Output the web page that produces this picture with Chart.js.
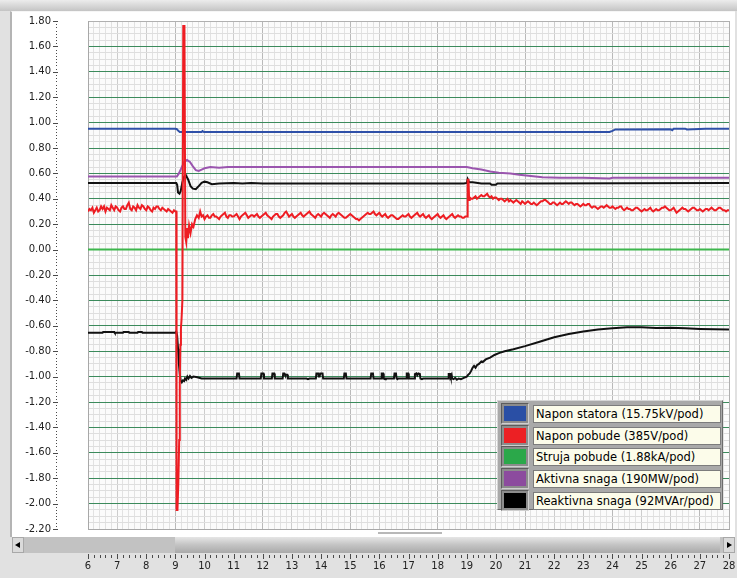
<!DOCTYPE html>
<html>
<head>
<meta charset="utf-8">
<script src="https://cdn.jsdelivr.net/npm/chart.js@4.4.1/dist/chart.umd.min.js"></script>
<style>
  body { margin: 0; background: #e1e1e1; font-family: "DejaVu Sans", sans-serif; }
  #wrap { position: relative; width: 737px; height: 578px; overflow: hidden; }
  #topbar { position: absolute; left: 0; top: 0; width: 737px; height: 11px; background: linear-gradient(#ececec, #c4c4c4); }
  #panel { position: absolute; left: 10px; top: 11px; width: 725px; height: 526px; background: #fff;
           border-left: 2px solid #b4b4b4; border-top: 1px solid #f6f6f6; box-sizing: border-box; }
  #split { position: absolute; left: 378px; top: 532px; width: 64px; height: 2px; background: #b8b8b8; }
  #chartbox { position: absolute; left: 0; top: 0; width: 737px; height: 578px; }
  #scroll { position: absolute; left: 12px; top: 537px; width: 723px; height: 16px; background: #c2c2c2; }
  #scroll .btn { position: absolute; top: 0; height: 16px; width: 12px; background: #dadada; box-sizing: border-box; border: 1px solid #a8a8a8; }
  #scroll .btnL { left: 0; }
  #scroll .btnR { right: 0; }
  #scroll .btnL:after { content: ""; position: absolute; left: 2px; top: 4px; border-right: 5px solid #000; border-top: 3px solid transparent; border-bottom: 3px solid transparent; }
  #scroll .btnR:after { content: ""; position: absolute; left: 3px; top: 4px; border-left: 5px solid #000; border-top: 3px solid transparent; border-bottom: 3px solid transparent; }
  #thumb { position: absolute; left: 163px; top: 0; width: 545px; height: 16px; background: linear-gradient(#e6e6e6, #c6c6c6 45%, #a9a9a9); }
  #legend { position: absolute; left: 497px; top: 400px; width: 226px; height: 110px; background: #a9a9a9; box-sizing: border-box;
            border-top: 1px solid #d6d6d6; border-left: 1px solid #d6d6d6; border-right: 1px solid #6c6c6c; border-bottom: 1px solid #6c6c6c; }
  .row { position: absolute; left: 3px; width: 219px; height: 18px; }
  .sw { position: absolute; left: 0; top: -2px; width: 28px; height: 21px; background: #8c8c8c; box-sizing: border-box;
        border: 1px solid; border-color: #5c5c5c #cfcfcf #cfcfcf #5c5c5c; }
  .sw i { position: absolute; left: 2px; top: 2px; right: 2px; bottom: 2px; }
  .lab { position: absolute; left: 32px; top: 0; width: 188px; height: 18px; background: #fcfcea; border: 1px solid #7c7c7c;
         box-sizing: border-box; font: 11.5px "DejaVu Sans", sans-serif; line-height: 16px; padding-left: 2px; color: #000; white-space: nowrap; }
</style>
</head>
<body>
<div id="wrap">
  <div id="topbar"></div>
  <div id="panel"></div>
  <div id="split"></div>
  <div id="chartbox"><canvas id="trendChart"></canvas></div>
  <div id="scroll"><div class="btn btnL"></div><div id="thumb"></div><div class="btn btnR"></div></div>
  <div id="legend">
    <div class="row" style="top:4px"><div class="sw"><i style="background:#2a4fa5"></i></div><div class="lab">Napon statora (15.75kV/pod)</div></div>
    <div class="row" style="top:26px"><div class="sw"><i style="background:#ec2024"></i></div><div class="lab">Napon pobude (385V/pod)</div></div>
    <div class="row" style="top:47px"><div class="sw"><i style="background:#2ba84a"></i></div><div class="lab">Struja pobude (1.88kA/pod)</div></div>
    <div class="row" style="top:69px"><div class="sw"><i style="background:#8c4b9e"></i></div><div class="lab">Aktivna snaga (190MW/pod)</div></div>
    <div class="row" style="top:91px"><div class="sw"><i style="background:#000"></i></div><div class="lab">Reaktivna snaga (92MVAr/pod)</div></div>
  </div>
</div>
<script>
// time axis (s) and y range in divisions
const xMin = 6, xMax = 28;
const yMin = -2.2, yMax = 1.8;

// Napon statora
const statorPts = [[6,0.952],[9.0,0.952],[9.05,0.948],[9.1,0.935],[9.15,0.926],[9.9,0.926],[9.93,0.933],[9.98,0.926],
  [23.9,0.926],[24.0,0.935],[24.1,0.946],[26.0,0.948],[26.05,0.94],[26.1,0.952],[26.5,0.952],[26.55,0.946],[27.2,0.952],[28,0.952]];

// Napon pobude (noisy)
const pobudaPts = [
  [6.0,0.30],[6.05,0.32],[6.1,0.31],[6.15,0.33],[6.2,0.29],[6.25,0.31],[6.3,0.33],[6.35,0.30],[6.4,0.31],[6.45,0.34],
  [6.5,0.32],[6.55,0.34],[6.6,0.30],[6.65,0.33],[6.7,0.32],[6.75,0.31],[6.8,0.35],[6.85,0.33],[6.9,0.31],[6.95,0.34],
  [7.0,0.33],[7.05,0.31],[7.1,0.30],[7.15,0.33],[7.2,0.34],[7.25,0.32],[7.3,0.32],[7.35,0.35],[7.4,0.37],[7.45,0.32],
  [7.5,0.31],[7.55,0.34],[7.6,0.33],[7.65,0.31],[7.7,0.35],[7.75,0.33],[7.8,0.32],[7.85,0.35],[7.9,0.34],[7.95,0.32],
  [8.0,0.31],[8.05,0.34],[8.1,0.33],[8.15,0.31],[8.2,0.30],[8.25,0.33],[8.3,0.32],[8.35,0.34],[8.4,0.34],[8.45,0.32],
  [8.5,0.31],[8.55,0.33],[8.6,0.32],[8.65,0.31],[8.7,0.30],[8.75,0.32],[8.8,0.31],[8.85,0.30],[8.9,0.29],[8.95,0.31],
  [9.0,0.30],[9.03,0.30],[9.04,-2.05],[9.07,-2.05],[9.1,-1.84],[9.13,-1.5],[9.15,-1.05],[9.17,-0.75],[9.19,-0.62],
  [9.21,-0.55],[9.24,-0.4],[9.27,1.76],[9.31,1.76],[9.34,0.10],[9.37,0.06],[9.4,0.17],[9.43,0.09],[9.47,0.19],
  [9.52,0.13],[9.57,0.20],[9.62,0.18],[9.68,0.24],[9.74,0.27],[9.8,0.25],[9.85,0.30],[9.9,0.26],[9.95,0.27],
  [10.0,0.24],[10.05,0.26],[10.1,0.27],[10.15,0.25],[10.2,0.25],[10.25,0.27],[10.3,0.28],[10.35,0.26],[10.4,0.26],[10.45,0.25],
  [10.5,0.24],[10.55,0.26],[10.6,0.27],[10.65,0.28],[10.7,0.29],[10.75,0.26],[10.8,0.25],[10.85,0.27],[10.9,0.27],[10.95,0.26],
  [11.0,0.26],[11.05,0.27],[11.1,0.28],[11.15,0.26],[11.2,0.24],[11.25,0.26],[11.3,0.27],[11.35,0.28],[11.4,0.29],[11.45,0.27],
  [11.5,0.25],[11.55,0.26],[11.6,0.27],[11.65,0.27],[11.7,0.26],[11.75,0.27],[11.8,0.28],[11.85,0.26],[11.9,0.25],[11.95,0.26],
  [12.0,0.27],[12.05,0.28],[12.1,0.29],[12.15,0.27],[12.2,0.26],[12.25,0.25],[12.3,0.24],[12.35,0.26],[12.4,0.27],[12.45,0.28],
  [12.5,0.28],[12.55,0.26],[12.6,0.25],[12.65,0.26],[12.7,0.27],[12.75,0.29],[12.8,0.30],[12.85,0.28],[12.9,0.26],[12.95,0.27],
  [13.0,0.28],[13.05,0.26],[13.1,0.25],[13.15,0.26],[13.2,0.27],[13.25,0.28],[13.3,0.29],[13.35,0.27],[13.4,0.26],[13.45,0.27],
  [13.5,0.28],[13.55,0.29],[13.6,0.30],[13.65,0.28],[13.7,0.27],[13.75,0.26],[13.8,0.25],[13.85,0.27],[13.9,0.28],[13.95,0.27],
  [14.0,0.26],[14.05,0.28],[14.1,0.29],[14.15,0.28],[14.2,0.27],[14.25,0.26],[14.3,0.25],[14.35,0.27],[14.4,0.28],[14.45,0.27],
  [14.5,0.26],[14.55,0.28],[14.6,0.29],[14.65,0.28],[14.7,0.27],[14.75,0.26],[14.8,0.25],[14.85,0.25],[14.9,0.26],[14.95,0.27],
  [15.0,0.28],[15.05,0.27],[15.1,0.26],[15.15,0.25],[15.2,0.24],[15.25,0.24],[15.3,0.23],[15.35,0.24],[15.4,0.25],[15.45,0.26],
  [15.5,0.27],[15.55,0.28],[15.6,0.29],[15.65,0.28],[15.7,0.28],[15.75,0.29],[15.8,0.30],[15.85,0.28],[15.9,0.27],[15.95,0.28],
  [16.0,0.29],[16.05,0.27],[16.1,0.26],[16.15,0.27],[16.2,0.28],[16.25,0.26],[16.3,0.25],[16.35,0.26],[16.4,0.27],[16.45,0.27],
  [16.5,0.26],[16.55,0.25],[16.6,0.24],[16.65,0.24],[16.7,0.25],[16.75,0.26],[16.8,0.27],[16.85,0.26],[16.9,0.26],[16.95,0.27],
  [17.0,0.28],[17.05,0.26],[17.1,0.25],[17.15,0.26],[17.2,0.27],[17.25,0.28],[17.3,0.29],[17.35,0.27],[17.4,0.26],[17.45,0.27],
  [17.5,0.28],[17.55,0.26],[17.6,0.25],[17.65,0.26],[17.7,0.27],[17.75,0.25],[17.8,0.24],[17.85,0.25],[17.9,0.26],[17.95,0.27],
  [18.0,0.28],[18.05,0.26],[18.1,0.25],[18.15,0.26],[18.2,0.27],[18.25,0.25],[18.3,0.24],[18.35,0.25],[18.4,0.26],[18.45,0.27],
  [18.5,0.28],[18.55,0.26],[18.6,0.25],[18.65,0.26],[18.7,0.27],[18.75,0.26],[18.8,0.26],[18.85,0.25],[18.9,0.25],[18.95,0.26],
  [19.0,0.26],[19.02,0.26],[19.03,0.55],[19.06,0.55],[19.08,0.39],
  [19.1,0.41],[19.15,0.40],[19.2,0.40],[19.25,0.41],[19.3,0.42],[19.35,0.40],[19.4,0.41],[19.45,0.42],[19.5,0.43],[19.55,0.42],
  [19.6,0.42],[19.65,0.43],[19.7,0.44],[19.75,0.42],[19.8,0.41],[19.85,0.42],[19.9,0.40],[19.95,0.41],
  [20.0,0.41],[20.05,0.40],[20.1,0.39],[20.15,0.40],[20.2,0.40],[20.25,0.39],[20.3,0.38],[20.35,0.39],[20.4,0.40],[20.45,0.38],
  [20.5,0.39],[20.55,0.38],[20.6,0.37],[20.65,0.38],[20.7,0.39],[20.75,0.38],[20.8,0.37],[20.85,0.36],[20.9,0.38],[20.95,0.37],
  [21.0,0.36],[21.05,0.37],[21.1,0.38],[21.15,0.37],[21.2,0.36],[21.25,0.36],[21.3,0.37],[21.35,0.36],[21.4,0.35],[21.45,0.36],
  [21.5,0.37],[21.55,0.38],[21.6,0.38],[21.65,0.39],[21.7,0.39],[21.75,0.38],[21.8,0.37],[21.85,0.36],[21.9,0.36],[21.95,0.37],
  [22.0,0.37],[22.05,0.36],[22.1,0.35],[22.15,0.36],[22.2,0.37],[22.25,0.36],[22.3,0.36],[22.35,0.37],[22.4,0.38],[22.45,0.37],
  [22.5,0.36],[22.55,0.37],[22.6,0.37],[22.65,0.36],[22.7,0.35],[22.75,0.36],[22.8,0.36],[22.85,0.35],[22.9,0.34],[22.95,0.35],
  [23.0,0.36],[23.05,0.35],[23.1,0.35],[23.15,0.36],[23.2,0.36],[23.25,0.34],[23.3,0.33],[23.35,0.34],[23.4,0.34],[23.45,0.33],
  [23.5,0.32],[23.55,0.33],[23.6,0.34],[23.65,0.34],[23.7,0.33],[23.75,0.34],[23.8,0.35],[23.85,0.34],[23.9,0.33],[23.95,0.33],
  [24.0,0.34],[24.05,0.33],[24.1,0.32],[24.15,0.33],[24.2,0.33],[24.25,0.34],[24.3,0.34],[24.35,0.32],[24.4,0.31],[24.45,0.32],
  [24.5,0.33],[24.55,0.32],[24.6,0.32],[24.65,0.31],[24.7,0.31],[24.75,0.32],[24.8,0.33],[24.85,0.33],[24.9,0.32],[24.95,0.31],
  [25.0,0.30],[25.05,0.31],[25.1,0.32],[25.15,0.31],[25.2,0.31],[25.25,0.32],[25.3,0.33],[25.35,0.31],[25.4,0.30],[25.45,0.31],
  [25.5,0.32],[25.55,0.31],[25.6,0.31],[25.65,0.32],[25.7,0.33],[25.75,0.33],[25.8,0.34],[25.85,0.33],[25.9,0.32],[25.95,0.31],
  [26.0,0.31],[26.05,0.32],[26.1,0.33],[26.15,0.31],[26.2,0.29],[26.25,0.30],[26.3,0.31],[26.35,0.32],[26.4,0.33],[26.45,0.32],
  [26.5,0.32],[26.55,0.31],[26.6,0.30],[26.65,0.31],[26.7,0.32],[26.75,0.33],[26.8,0.33],[26.85,0.32],[26.9,0.31],[26.95,0.31],
  [27.0,0.32],[27.05,0.31],[27.1,0.30],[27.15,0.31],[27.2,0.32],[27.25,0.32],[27.3,0.31],[27.35,0.32],[27.4,0.33],[27.45,0.32],
  [27.5,0.31],[27.55,0.31],[27.6,0.32],[27.65,0.33],[27.7,0.33],[27.75,0.32],[27.8,0.31],[27.85,0.31],[27.9,0.30],[27.95,0.31],
  [28.0,0.31]];

// Struja pobude
const strujaPts = [[6,0],[28,0]];

// Aktivna snaga
const aktivnaPts = [[6,0.575],[9.05,0.575],[9.12,0.60],[9.2,0.64],[9.3,0.69],[9.4,0.705],[9.5,0.69],[9.6,0.655],[9.7,0.625],
  [9.8,0.62],[9.9,0.63],[10.0,0.64],[10.2,0.65],[10.5,0.645],[10.8,0.65],[11.5,0.65],[19.0,0.65],[19.2,0.64],[19.5,0.63],
  [19.8,0.615],[20.1,0.605],[20.5,0.60],[20.8,0.59],[21.2,0.58],[21.6,0.57],[22.2,0.565],[23.0,0.565],[23.9,0.56],[24.0,0.565],[28,0.565]];

// Reaktivna snaga (lower trace)
const reaktivnaPts = [[6.0,-0.655],[6.5,-0.655],[6.52,-0.648],[6.9,-0.648],[6.92,-0.655],[7.2,-0.655],[7.22,-0.648],[7.4,-0.648],
  [7.42,-0.655],[7.7,-0.655],[7.72,-0.648],[7.85,-0.648],[7.87,-0.655],[9.0,-0.655],[9.03,-0.645],[9.06,-0.68],[9.09,-0.78],
  [9.12,-0.90],[9.15,-0.98],[9.18,-1.03],[9.22,-1.045],[9.26,-1.03],[9.3,-1.035],[9.33,-1.015],[9.37,-1.025],[9.41,-1.0],
  [9.45,-1.015],[9.5,-0.995],[9.55,-1.01],[9.62,-1.0],[9.75,-1.005],[9.9,-1.015],[10.5,-1.015],
  [11.1,-1.015],[11.12,-0.975],[11.18,-0.975],[11.2,-1.015],
  [11.93,-1.015],[11.95,-0.975],[12.02,-0.975],[12.04,-1.015],
  [12.31,-1.015],[12.33,-0.975],[12.39,-0.975],[12.41,-1.015],
  [12.68,-1.015],[12.7,-0.975],[12.74,-0.975],[12.76,-0.985],[12.84,-0.985],[12.86,-1.015],
  [13.5,-1.015],[13.55,-1.02],[13.6,-1.015],
  [13.82,-1.015],[13.84,-0.975],[13.9,-0.975],[13.92,-1.0],[13.95,-1.0],[13.97,-0.975],[14.05,-0.975],[14.07,-1.015],
  [14.78,-1.015],[14.8,-0.975],[14.85,-0.975],[14.87,-1.015],
  [15.7,-1.015],[15.72,-0.975],[15.78,-0.975],[15.8,-1.015],
  [16.06,-1.015],[16.08,-0.975],[16.13,-0.975],[16.15,-1.015],[16.2,-1.02],[16.22,-1.015],
  [16.5,-1.015],[16.52,-0.975],[16.57,-0.975],[16.59,-1.015],[16.62,-1.02],[16.64,-1.015],
  [16.92,-1.015],[16.94,-0.975],[16.99,-0.975],[17.01,-1.015],
  [17.2,-1.015],[17.22,-0.98],[17.27,-0.975],[17.3,-0.99],[17.34,-0.975],[17.39,-0.98],[17.41,-1.015],[17.46,-1.02],[17.5,-1.015],
  [18.36,-1.015],[18.38,-0.98],[18.43,-0.98],[18.45,-1.0],[18.48,-0.985],[18.5,-1.015],[18.55,-1.02],[18.6,-1.01],
  [18.66,-1.025],[18.72,-1.015],[18.8,-1.02],[18.9,-1.01],
  [19.0,-1.0],[19.05,-0.985],[19.1,-0.975],[19.15,-0.955],[19.2,-0.93],[19.25,-0.915],[19.3,-0.93],[19.35,-0.91],[19.42,-0.90],
  [19.5,-0.88],[19.55,-0.885],[19.65,-0.865],[19.8,-0.85],[19.95,-0.83],[20.1,-0.815],[20.3,-0.80],[20.6,-0.785],[21.0,-0.76],
  [21.5,-0.725],[22.0,-0.69],[22.5,-0.665],[23.0,-0.645],[23.5,-0.63],[24.0,-0.62],[24.5,-0.612],[25.0,-0.612],[25.5,-0.618],
  [26.0,-0.615],[26.5,-0.62],[27.0,-0.625],[27.5,-0.628],[28.0,-0.63]];

// second black trace near 0.52
const crnaPts = [[6,0.525],[9.03,0.525],[9.06,0.51],[9.09,0.45],[9.14,0.44],[9.18,0.46],[9.24,0.53],[9.3,0.575],[9.36,0.585],
  [9.44,0.55],[9.52,0.50],[9.6,0.48],[9.7,0.475],[9.8,0.50],[9.9,0.525],[10.0,0.535],[10.1,0.53],[10.25,0.515],[10.5,0.52],
  [11.0,0.525],[11.3,0.52],[11.6,0.525],[12.0,0.52],[18.9,0.52],[19.0,0.525],[19.03,0.555],[19.08,0.53],[19.2,0.53],[19.5,0.52],
  [19.8,0.52],[19.85,0.51],[20.0,0.51],[20.05,0.52],[21.0,0.52],[28,0.525]];

function near(v, t) { return Math.abs(v - t) < 1e-6; }
function onStep(v, s) { const k = v / s; return Math.abs(k - Math.round(k)) < 1e-6; }
function pts(a) { return a.map(p => ({ x: p[0], y: p[1] })); }
function line(label, data, color, order, width) {
  return { label: label, data: pts(data), borderColor: color, backgroundColor: color, borderWidth: width,
           pointRadius: 0, tension: 0, order: order };
}
function noPad(s) { s.paddingTop = 0; s.paddingBottom = 0; s.paddingLeft = 0; s.paddingRight = 0; }

const frame = {
  id: "frame",
  beforeDraw(chart) {
    const a = chart.chartArea, c = chart.ctx;
    c.save();
    c.fillStyle = "#fbfbfb";
    c.fillRect(a.left, a.top, a.right - a.left, a.bottom - a.top);
    c.restore();
  },
  afterDraw(chart) {
    const c = chart.ctx, ys = chart.scales.y, xs = chart.scales.x;
    c.save();
    c.fillStyle = "#4a4a4a";
    for (let i = 0; i <= 160; i++) {
      const py = Math.round(ys.getPixelForValue(yMin + i * 0.025));
      if (i % 8 === 0) c.fillRect(53, py, 5, 1);
      else c.fillRect(56, py, 1, 1);
    }
    for (let i = 0; i <= 110; i++) {
      const px = Math.round(xs.getPixelForValue(xMin + i * 0.2));
      if (i % 5 === 0) c.fillRect(px, 554, 1, 5);
      else c.fillRect(px, 555, 1, 3);
    }
    c.restore();
  }
};

const font = { family: "DejaVu Sans", size: 10 };
new Chart(document.getElementById("trendChart"), {
  type: "line",
  data: {
    datasets: [
      line("Napon statora (15.75kV/pod)", statorPts, "#2f50a8", 3, 2),
      line("Napon pobude (385V/pod)", pobudaPts, "#ee1d23", 0, 2),
      line("Struja pobude (1.88kA/pod)", strujaPts, "#3db64c", 5, 2),
      line("Aktivna snaga (190MW/pod)", aktivnaPts, "#9a55ae", 2, 2),
      line("Reaktivna snaga (92MVAr/pod)", reaktivnaPts, "#111111", 1, 2),
      line("Reaktivna snaga 2", crnaPts, "#111111", 4, 2)
    ]
  },
  options: {
    responsive: true,
    maintainAspectRatio: false,
    animation: false,
    layout: { padding: { top: 21, right: 8, left: 0, bottom: 0 } },
    plugins: { legend: { display: false }, tooltip: { enabled: false } },
    scales: {
      x: {
        type: "linear", min: xMin, max: xMax,
        afterFit: s => { s.height = 49; noPad(s); },
        ticks: { stepSize: 0.2, autoSkip: false, maxRotation: 0, padding: 31, color: "#222", font: font,
                 callback: v => onStep(v, 1) ? String(Math.round(v)) : "" },
        grid: { drawTicks: false, lineWidth: 1,
                color: c => {
                  const v = c.tick.value;
                  if (near(v, xMax)) return "#b0b0b0";
                  if (onStep(v - xMin, 3)) return "#b9b9b9";
                  if (onStep(v, 1)) return "#cdcdcd";
                  return "#e2e2e2";
                } },
        border: { display: true, color: "#a8a8a8" }
      },
      y: {
        min: yMin, max: yMax,
        afterFit: s => { s.width = 88; noPad(s); },
        ticks: { stepSize: 0.05, autoSkip: false, padding: 37, color: "#222", font: font,
                 callback: v => onStep(v, 0.2) ? (Math.abs(v) < 1e-9 ? 0 : v).toFixed(2) : "" },
        grid: { drawTicks: false, lineWidth: 1,
                color: c => {
                  const v = c.tick.value;
                  if (near(v, yMax) || near(v, yMin)) return "#b0b0b0";
                  return onStep(v, 0.2) ? "#3b8a5b" : "#dedede";
                } },
        border: { display: true, color: "#a8a8a8" }
      }
    }
  },
  plugins: [frame]
});
</script>
</body>
</html>
